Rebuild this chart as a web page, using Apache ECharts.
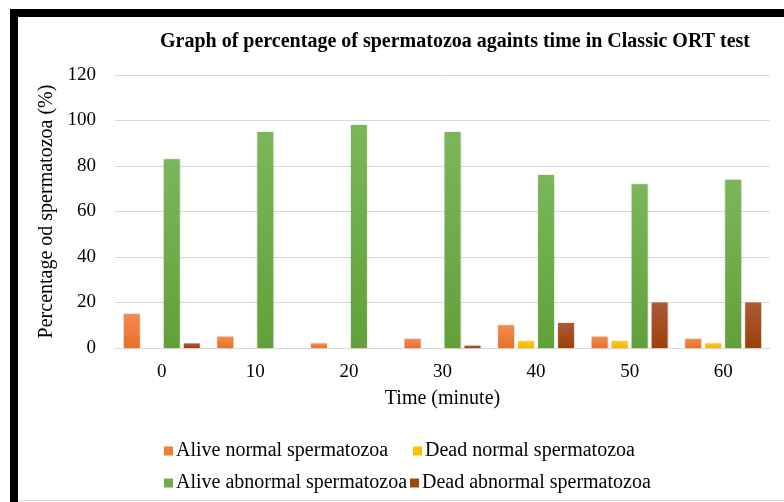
<!DOCTYPE html>
<html>
<head>
<meta charset="utf-8">
<script src="https://cdn.jsdelivr.net/npm/echarts@6/dist/echarts.min.js"></script>
<style>
  html, body { margin: 0; padding: 0; background: #fff; }
  #chart { width: 784px; height: 502px; }
</style>
</head>
<body>
<div id="chart"></div>
<script>
const times = ["0", "10", "20", "30", "40", "50", "60"];
const yTicks = [0, 20, 40, 60, 80, 100, 120];

const aliveNormal = [15, 5, 2, 4, 10, 5, 4];
const deadNormal = [0, 0, 0, 0, 3, 3, 2];
const aliveAbnormal = [83, 95, 98, 95, 76, 72, 74];
const deadAbnormal = [2, 0, 0, 1, 11, 20, 20];

const names = [
  "Alive normal spermatozoa",
  "Dead normal spermatozoa",
  "Alive abnormal spermatozoa",
  "Dead abnormal spermatozoa",
];

const serif = "Liberation Serif";

// gradient: a bit lighter at the top like the office bars
const grad = (top, bottom) =>
  new echarts.graphic.LinearGradient(0, 0, 0, 1, [
    { offset: 0, color: top },
    { offset: 1, color: bottom },
  ]);

const colors = [
  grad("#F28C50", "#E8702A"),
  grad("#FFC61A", "#F5B800"),
  grad("#7BB75A", "#62A03A"),
  grad("#AB5A38", "#9A4206"),
];
const legendColors = ["#ED7D31", "#FFC000", "#70AD47", "#9E480E"];

const chart = echarts.init(document.getElementById("chart"));

const mkSeries = (name, data, i) => ({
  name: name,
  type: "bar",
  data: data,
  barWidth: 16,
  barGap: "25%",
  itemStyle: {
    color: colors[i],
    shadowColor: "rgba(0,0,0,0.18)",
    shadowBlur: 2,
  },
});

const mkLegend = (i, left, top) => ({
  data: [{ name: names[i], itemStyle: { color: legendColors[i] } }],
  left: left,
  top: top,
  icon: "rect",
  itemWidth: 9,
  itemHeight: 9,
  itemGap: 0,
  textStyle: { fontFamily: serif, fontSize: 20, color: "#000", padding: [0, 0, 0, -2] },
});

const option = {
  backgroundColor: "#fff",
  animation: false,
  title: {
    text: "Graph of percentage of spermatozoa againts time in Classic ORT test",
    left: 155,
    top: 27,
    textStyle: { fontFamily: serif, fontSize: 20, fontWeight: "bold", color: "#000" },
  },
  legend: [
    mkLegend(0, 159, 436),
    mkLegend(1, 408, 436),
    mkLegend(2, 159, 468),
    mkLegend(3, 405, 468),
  ],
  grid: { left: 115, right: 14, top: 75, bottom: 154 },
  xAxis: {
    type: "category",
    data: times,
    name: "Time (minute)",
    nameLocation: "middle",
    nameGap: 41,
    nameTextStyle: { fontFamily: serif, fontSize: 20, color: "#000" },
    axisLine: { lineStyle: { color: "#d9d9d9" } },
    axisTick: { show: false },
    axisLabel: { fontFamily: serif, fontSize: 19, color: "#000", margin: 15 },
  },
  yAxis: {
    type: "value",
    min: yTicks[0],
    max: yTicks[yTicks.length - 1],
    interval: 20,
    name: "Percentage od spermatozoa (%)",
    nameLocation: "middle",
    nameGap: 48,
    nameTextStyle: { fontFamily: serif, fontSize: 20, color: "#000" },
    axisLine: { show: false },
    axisTick: { show: false },
    axisLabel: { fontFamily: serif, fontSize: 19, color: "#000", margin: 19 },
    splitLine: { lineStyle: { color: "#d9d9d9" } },
  },
  series: [
    mkSeries(names[0], aliveNormal, 0),
    mkSeries(names[1], deadNormal, 1),
    mkSeries(names[2], aliveAbnormal, 2),
    mkSeries(names[3], deadAbnormal, 3),
  ],
  graphic: [
    // black frame on the top and left, grey edge at the bottom
    { type: "rect", shape: { x: 10, y: 9, width: 774, height: 8 }, style: { fill: "#000" } },
    { type: "rect", shape: { x: 10, y: 9, width: 8, height: 493 }, style: { fill: "#000" } },
    { type: "rect", shape: { x: 18, y: 500, width: 766, height: 1 }, style: { fill: "#d9d9d9" } },
  ],
};

chart.setOption(option);
</script>
</body>
</html>
